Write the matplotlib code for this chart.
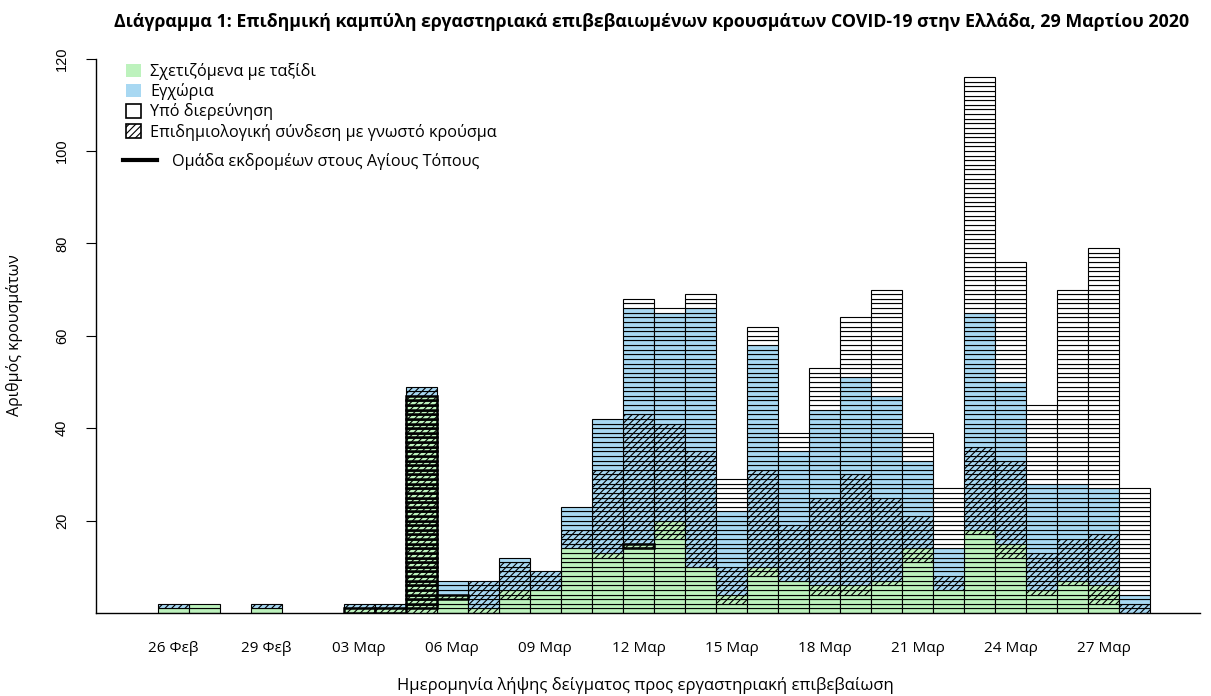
import numpy as np
import matplotlib
matplotlib.use("Agg")
import matplotlib.pyplot as plt
from matplotlib.patches import Patch
from matplotlib.lines import Line2D

plt.rcParams['font.family'] = ['Open Sans', 'DejaVu Sans']
plt.rcParams['hatch.linewidth'] = 0.8

# ημέρες 26 Φεβ - 28 Μαρ 2020
days = ['26 Φεβ', '27 Φεβ', '28 Φεβ', '29 Φεβ'] + ['%02d Μαρ' % d for d in range(1, 29)]
tick_pos = [0, 3, 6, 9, 12, 15, 18, 21, 24, 27, 30]
tick_labels = ['26 Φεβ', '29 Φεβ', '03 Μαρ', '06 Μαρ', '09 Μαρ', '12 Μαρ',
               '15 Μαρ', '18 Μαρ', '21 Μαρ', '24 Μαρ', '27 Μαρ']

# κρούσματα ανά ημέρα και κατηγορία (από κάτω προς τα πάνω)
travel_plain = [1, 2, 0, 1, 0, 0, 0, 0, 0, 3, 0, 3, 5, 14, 12, 14,
                16, 10, 2, 8, 7, 4, 4, 6, 11, 5, 17, 12, 4, 6, 2, 0]
travel_link = [0, 0, 0, 0, 0, 0, 0, 0, 1, 0, 1, 2, 0, 0, 1, 0,
               4, 0, 2, 2, 0, 2, 2, 1, 3, 0, 1, 3, 1, 1, 4, 0]
pilgrims = [0, 0, 0, 0, 0, 0, 1, 1, 46, 1, 0, 0, 0, 0, 0, 1,
            0, 0, 0, 0, 0, 0, 0, 0, 0, 0, 0, 0, 0, 0, 0, 0]
local_link = [1, 0, 0, 1, 0, 0, 1, 1, 2, 0, 6, 6, 4, 4, 18, 28,
              21, 25, 6, 21, 12, 19, 24, 18, 7, 3, 18, 18, 8, 9, 11, 2]
local_plain = [0, 0, 0, 0, 0, 0, 0, 0, 0, 3, 0, 1, 0, 5, 11, 23,
               24, 31, 12, 27, 16, 19, 21, 22, 12, 6, 29, 17, 15, 12, 10, 2]
under_inv = [0, 0, 0, 0, 0, 0, 0, 0, 0, 0, 0, 0, 0, 0, 0, 2,
             1, 3, 7, 4, 4, 9, 13, 23, 6, 13, 51, 26, 17, 42, 52, 23]

green = '#bdf2bd'
blue = '#a8d8f2'

fig = plt.figure(figsize=(12.11, 6.96), dpi=100)
ax = fig.add_axes([95.5 / 1211, 1 - 613 / 696, (1200 - 95.5) / 1211, 554.4 / 696])

layers = [
    (travel_plain, green, None, 0.8),
    (travel_link, green, '/////', 0.8),
    (pilgrims, green, '/////', 1.8),
    (local_link, blue, '/////', 0.8),
    (local_plain, blue, None, 0.8),
    (under_inv, 'white', None, 0.8),
]

base = np.zeros(len(days))
for counts, col, hatch, lw in layers:
    xs, bots = [], []
    for i, n in enumerate(counts):
        for k in range(n):
            xs.append(i)
            bots.append(base[i] + k)
    if xs:
        ax.bar(xs, 1, bottom=bots, width=1, color=col, edgecolor='black',
               linewidth=lw, hatch=hatch, zorder=3 if lw > 1 else 2)
    base += np.array(counts)

ax.set_xlim(-2.5, 33.1)
ax.set_ylim(0, 120)
ax.spines['top'].set_visible(False)
ax.spines['right'].set_visible(False)
ax.spines['left'].set_linewidth(1.0)
ax.spines['bottom'].set_linewidth(1.0)

ax.set_xticks(tick_pos)
ax.set_xticklabels(tick_labels, fontsize=11)
ax.tick_params(axis='x', length=0, pad=20)
ax.set_yticks([20, 40, 60, 80, 100, 120])
ax.set_yticklabels(['20', '40', '60', '80', '100', '120'], rotation=90, va='center',
                   family=['Liberation Sans'], fontsize=10.5)
ax.tick_params(axis='y', length=7, pad=12)

fig.text(114 / 1211, 1 - 22 / 696,
         'Διάγραμμα 1: Επιδημική καμπύλη εργαστηριακά επιβεβαιωμένων κρουσμάτων COVID-19 στην Ελλάδα, 29 Μαρτίου 2020',
         fontsize=12.8, fontweight='bold', ha='left', va='center')
fig.text(645 / 1211, 1 - 686 / 696, 'Ημερομηνία λήψης δείγματος προς εργαστηριακή επιβεβαίωση',
         fontsize=12, ha='center', va='center')
fig.text(15 / 1211, 1 - 335 / 696, 'Αριθμός κρουσμάτων', fontsize=11.5, rotation=90,
         ha='center', va='center')

handles = [Patch(facecolor=green, edgecolor='none'),
           Patch(facecolor=blue, edgecolor='none'),
           Patch(facecolor='white', edgecolor='black', linewidth=1.2),
           Patch(facecolor='white', edgecolor='black', hatch='/////', linewidth=1.2)]
labels = ['Σχετιζόμενα με ταξίδι', 'Εγχώρια', 'Υπό διερεύνηση',
          'Επιδημιολογική σύνδεση με γνωστό κρούσμα']
leg1 = fig.legend(handles, labels, loc='upper left', bbox_to_anchor=(126 / 1211, 1 - 63 / 696),
                  frameon=False, fontsize=11.7, handlelength=0.92, handleheight=0.9,
                  handletextpad=0.55, labelspacing=0.2, borderpad=0, borderaxespad=0)
leg2 = fig.legend([Line2D([0], [0], color='black', linewidth=3)],
                  ['Ομάδα εκδρομέων στους Αγίους Τόπους'], loc='upper left',
                  bbox_to_anchor=(123 / 1211, 1 - 153 / 696), frameon=False, fontsize=11.7,
                  handlelength=2.1, handletextpad=0.92, borderpad=0, borderaxespad=0)

fig.savefig('out.png', dpi=100)
